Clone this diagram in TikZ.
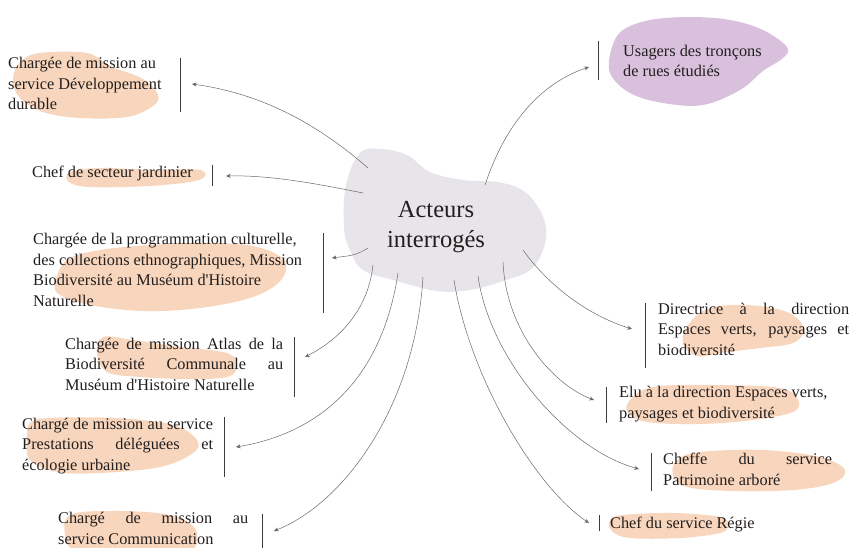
\documentclass[tikz,border=0pt]{standalone}
\usepackage{fontspec}
\setmainfont{Liberation Serif}
\usetikzlibrary{arrows.meta}
\definecolor{blobgrey}{RGB}{231,229,233}
\definecolor{bloborange}{RGB}{248,214,189}
\definecolor{blobpurple}{RGB}{217,193,222}
\definecolor{linegrey}{RGB}{105,105,105}
\definecolor{bargrey}{RGB}{60,60,60}
\definecolor{txtcol}{RGB}{35,30,30}
\newcommand{\jline}[2]{\hbox to #1pt{#2}}
\newcommand{\apos}{\textquotesingle}
\begin{document}
\begin{tikzpicture}[x=1pt,y=-1pt,
  txt/.style={anchor=base west, inner sep=0pt, align=left, font=\fontsize{16.3}{20.5}\selectfont, text=txtcol},
  conn/.style={draw=linegrey, line width=0.5pt, -{Stealth[length=4.5pt,width=4pt,inset=1.2pt]}},
  barline/.style={draw=bargrey, line width=0.9pt},
  orangeblob/.style={fill=bloborange},
  purpleblob/.style={fill=blobpurple},
  greyblob/.style={fill=blobgrey}
]
\useasboundingbox[fill=white] (0,0) rectangle (853,548);

% ---------- blobs ----------
\fill[greyblob] plot[smooth cycle, tension=0.65] coordinates {(360,153) (380,149) (407,155) (430,172) (463,180) (497,182) (522,190) (538,207) (546,228) (543,250) (530,270) (503,281) (470,290) (437,291) (397,281) (363,270) (350,250) (344,227) (346,185)};

\fill[orangeblob] plot[smooth cycle, tension=0.6] coordinates {(20,62) (40,53) (87,53) (110,66) (143,79) (158,95) (153,106) (127,117) (80,118) (43,112) (20,98) (13,80)};
\fill[orangeblob] plot[smooth cycle, tension=0.6] coordinates {(70,172) (100,168) (150,170) (200,170) (199,180) (150,186) (90,187) (69,182)};
\fill[orangeblob] plot[smooth cycle, tension=0.6] coordinates {(55,283) (67,260) (100,250) (150,245) (200,243) (253,246) (284,260) (281,280) (253,297) (200,308) (143,311) (90,305) (60,295)};
\fill[orangeblob] plot[smooth cycle, tension=0.6] coordinates {(103,337) (133,340) (180,347) (227,353) (237,366) (227,377) (187,379) (140,377) (107,372) (97,353)};
\fill[orangeblob] plot[smooth cycle, tension=0.6] coordinates {(30,423) (50,418) (117,418) (173,425) (197,440) (193,453) (160,467) (100,473) (57,472) (30,460) (27,440)};
\fill[orangeblob] plot[smooth cycle, tension=0.6] coordinates {(70,515) (110,511) (165,514) (192,525) (197,540) (185,552) (120,553) (75,550) (65,535)};
\fill[purpleblob] plot[smooth cycle, tension=0.6] coordinates {(623,30) (650,20) (690,17) (730,20) (763,30) (787,47) (783,58) (763,71) (740,90) (703,105) (663,103) (630,93) (610,73) (612,47)};
\fill[orangeblob] plot[smooth cycle, tension=0.6] coordinates {(683,343) (687,327) (703,311) (730,305) (767,307) (793,315) (804,330) (793,343) (760,348) (727,352) (697,356)};
\fill[orangeblob] plot[smooth cycle, tension=0.6] coordinates {(630,400) (653,387) (713,385) (780,388) (798,400) (793,412) (753,420) (700,424) (647,422) (628,413)};
\fill[orangeblob] plot[smooth cycle, tension=0.6] coordinates {(677,460) (700,452) (763,450) (820,457) (845,470) (833,483) (793,490) (733,491) (687,487) (673,475)};
\fill[orangeblob] plot[smooth cycle, tension=0.6] coordinates {(610,520) (623,515) (673,513) (720,517) (728,525) (720,533) (680,538) (630,538) (612,531)};

% ---------- bars ----------
\draw[barline] (180,58) -- (180,112);
\draw[barline] (212,165) -- (212,186);
\draw[barline] (323,233) -- (323,313);
\draw[barline] (294,337) -- (294,397);
\draw[barline] (224,417) -- (224,477);
\draw[barline] (262,514) -- (262,548);
\draw[barline] (598,41) -- (598,80);
\draw[barline] (645,303) -- (645,368);
\draw[barline] (606,387) -- (606,423);
\draw[barline] (651,453) -- (651,491);
\draw[barline] (599,515) -- (599,531);

% ---------- texts (base anchor = baseline of the last line) ----------
\node[font=\fontsize{24.5}{30}\selectfont, text=txtcol, align=center, inner sep=0pt, anchor=base] (c) at (436,247) {Acteurs\\interrogés};

\node[txt] (t1) at (8,110) {Chargée de mission au\\service Développement\\durable};
\node[txt] (t2) at (32,178) {Chef de secteur jardinier};
\node[txt] (t3) at (33,306) {Chargée de la programmation culturelle,\\des collections ethnographiques, Mission\\Biodiversité au Muséum d\apos Histoire\\Naturelle};
\node[txt] (t4) at (65,390) {\jline{218}{Chargée de mission Atlas de la}\\\jline{218}{Biodiversité Communale au}\\Muséum d\apos Histoire Naturelle};
\node[txt] (t5) at (22,470) {\jline{191}{Chargé de mission au service}\\\jline{191}{Prestations déléguées et}\\écologie urbaine};
\node[txt] (t6) at (58,544) {\jline{190}{Chargé de mission au}\\service Communication};
\node[txt] (t7) at (623,77) {Usagers des tronçons\\de rues étudiés};
\node[txt] (t8) at (658,355) {\jline{191}{Directrice à la direction}\\\jline{191}{Espaces verts, paysages et}\\biodiversité};
\node[txt] (t9) at (619,418) {Elu à la direction Espaces verts,\\paysages et biodiversité};
\node[txt] (t10) at (663,485) {\jline{169}{Cheffe du service}\\Patrimoine arboré};
\node[txt] (t11) at (610,528) {Chef du service Régie};

% ---------- connector ends ----------
\coordinate (s1) at (368,168);  \coordinate (e1) at (192,84);
\coordinate (s2) at (363,193);  \coordinate (e2) at (226,176);
\coordinate (s3) at (368,248);  \coordinate (e3) at (332,258);
\coordinate (s4) at (373,265);  \coordinate (e4) at (305,357);
\coordinate (s5) at (398,273);  \coordinate (e5) at (236,447);
\coordinate (s6) at (423,277);  \coordinate (e6) at (274,531);
\coordinate (s7) at (485,185);  \coordinate (e7) at (589,67);
\coordinate (s8) at (523,250);  \coordinate (e8) at (632,329);
\coordinate (s9) at (503,262);  \coordinate (e9) at (594,400);
\coordinate (s10) at (478,276); \coordinate (e10) at (639,469);
\coordinate (s11) at (454,280); \coordinate (e11) at (589,523);

\draw[conn] (s1) .. controls +(-55,-48) and +(65,9) .. (e1);
\draw[conn] (s2) .. controls +(-45,-9) and +(45,-1) .. (e2);
\draw[conn] (s3) .. controls +(-12,8) and +(15,-2) .. (e3);
\draw[conn] (s4) .. controls +(-5,45) and +(35,-18) .. (e4);
\draw[conn] (s5) .. controls +(-15,100) and +(90,-15) .. (e5);
\draw[conn] (s6) .. controls +(-8,130) and +(70,-28) .. (e6);
\draw[conn] (s7) .. controls +(20,-60) and +(-50,17) .. (e7);
\draw[conn] (s8) .. controls +(25,35) and +(-45,-14) .. (e8);
\draw[conn] (s9) .. controls +(3,70) and +(-40,-15) .. (e9);
\draw[conn] (s10) .. controls +(12,85) and +(-70,-19) .. (e10);
\draw[conn] (s11) .. controls +(15,95) and +(-55,-37) .. (e11);
\end{tikzpicture}
\end{document}
